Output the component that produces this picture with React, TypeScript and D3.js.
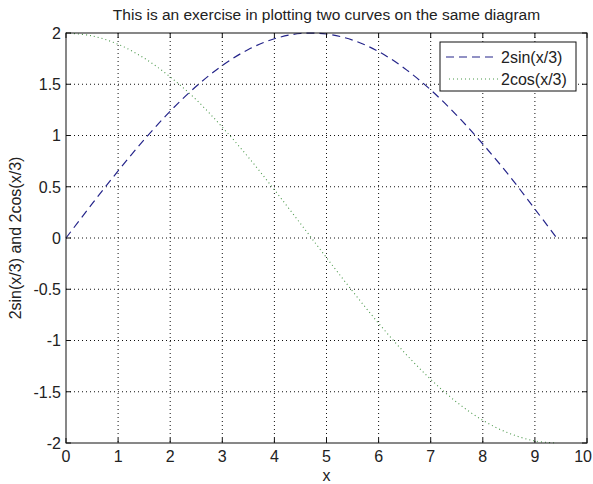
import React from "react";
import * as d3 from "d3";

const xValues = [0, 0.5, 1, 1.5, 2, 2.5, 3, 3.5, 4, 4.5, 5, 5.5, 6, 6.5, 7, 7.5, 8, 8.5, 9, 9.42];
const sinValues = [0, 0.332, 0.654, 0.959, 1.237, 1.48, 1.683, 1.839, 1.944, 1.995, 1.99, 1.931, 1.819, 1.654, 1.445, 1.197, 0.917, 0.613, 0.282, 0.0];
const cosValues = [2, 1.972, 1.89, 1.755, 1.572, 1.349, 1.081, 0.788, 0.47, 0.141, -0.192, -0.519, -0.832, -1.12, -1.379, -1.602, -1.779, -1.904, -1.98, -2.0];
const xTicks = [0, 1, 2, 3, 4, 5, 6, 7, 8, 9, 10];
const yTicks = [-2, -1.5, -1, -0.5, 0, 0.5, 1, 1.5, 2];
const seriesNames = ["2sin(x/3)", "2cos(x/3)"];
const titleText = "This is an exercise in plotting two curves on the same diagram";
const xLabelText = "x";
const yLabelText = "2sin(x/3) and 2cos(x/3)";

const W = 593;
const H = 484;
const L = 66, R = 587, T = 33, B = 443;
const FONT = "'Liberation Sans', Arial, Helvetica, sans-serif";

export default function App() {
  const x = d3.scaleLinear().domain([0, 10]).range([L, R]);
  const y = d3.scaleLinear().domain([-2, 2]).range([B, T]);
  const line = d3
    .line<number>()
    .x((_, i) => x(xValues[i]))
    .y((d) => y(d))
    .curve(d3.curveCatmullRom);
  const sinPath = line(sinValues) || "";
  const cosPath = line(cosValues) || "";
  const tickLen = 5;
  const txt = "#222";
  const lastTick = xTicks[xTicks.length - 1];

  return (
    <svg width={W} height={H} style={{ position: "absolute", left: 0, top: 0, background: "#fff" }}>
      <rect x={0} y={0} width={W} height={H} fill="#fff" />
      {/* grid */}
      {xTicks.slice(1, -1).map((t) => (
        <line key={"gx" + t} x1={x(t)} x2={x(t)} y1={T} y2={B} stroke="#111" strokeWidth={1} strokeDasharray="1 3" />
      ))}
      {yTicks.slice(1, -1).map((t) => (
        <line key={"gy" + t} x1={L} x2={R} y1={y(t)} y2={y(t)} stroke="#111" strokeWidth={1} strokeDasharray="1 3" />
      ))}
      {/* curves */}
      <path d={sinPath} fill="none" stroke="#24248a" strokeWidth={1.2} strokeDasharray="8 5" />
      <path d={cosPath} fill="none" stroke="#4a984a" strokeWidth={1.1} strokeDasharray="1 3" />
      {/* box */}
      <rect x={L} y={T} width={R - L} height={B - T} fill="none" stroke="#111" strokeWidth={1} />
      {/* ticks */}
      {xTicks.map((t) => (
        <g key={"tx" + t}>
          <line x1={x(t)} x2={x(t)} y1={B} y2={B - tickLen} stroke="#111" />
          <line x1={x(t)} x2={x(t)} y1={T} y2={T + tickLen} stroke="#111" />
          <text
            x={t === lastTick ? W - 1 : x(t)}
            y={462}
            textAnchor={t === lastTick ? "end" : "middle"}
            fontFamily={FONT}
            fontSize={16}
            fill={txt}
          >
            {t}
          </text>
        </g>
      ))}
      {yTicks.map((t) => (
        <g key={"ty" + t}>
          <line x1={L} x2={L + tickLen} y1={y(t)} y2={y(t)} stroke="#111" />
          <line x1={R} x2={R - tickLen} y1={y(t)} y2={y(t)} stroke="#111" />
          <text x={61} y={y(t)} dy="0.36em" textAnchor="end" fontFamily={FONT} fontSize={16} fill={txt}>
            {t}
          </text>
        </g>
      ))}
      {/* title */}
      <text x={(L + R) / 2} y={20} textAnchor="middle" fontFamily={FONT} fontSize={15.5} fill={txt}>
        {titleText}
      </text>
      {/* axis labels */}
      <text x={(L + R) / 2} y={481} textAnchor="middle" fontFamily={FONT} fontSize={16} fill={txt}>
        {xLabelText}
      </text>
      <text
        transform={`translate(21,${(T + B) / 2}) rotate(-90)`}
        textAnchor="middle"
        fontFamily={FONT}
        fontSize={16}
        fill={txt}
      >
        {yLabelText}
      </text>
      {/* legend */}
      <rect x={440} y={42} width={136} height={49} fill="#fff" stroke="#111" strokeWidth={1} />
      <line x1={446} x2={498} y1={57} y2={57} stroke="#24248a" strokeWidth={1.2} strokeDasharray="8 5" />
      <line x1={449} x2={498} y1={79} y2={79} stroke="#4a984a" strokeWidth={1.1} strokeDasharray="1 3" />
      <text x={501} y={57} dy="0.36em" fontFamily={FONT} fontSize={16} fill={txt}>
        {seriesNames[0]}
      </text>
      <text x={501} y={79} dy="0.36em" fontFamily={FONT} fontSize={16} fill={txt}>
        {seriesNames[1]}
      </text>
    </svg>
  );
}
